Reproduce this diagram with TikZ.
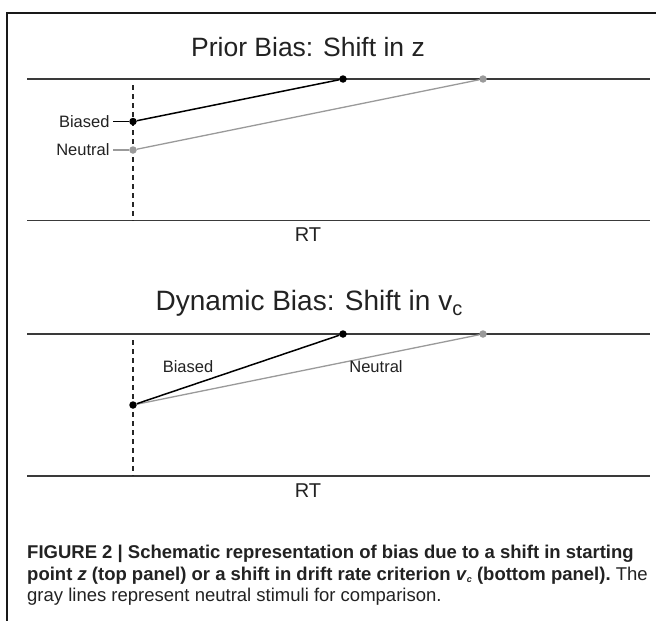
\documentclass[tikz,border=0pt]{standalone}
\usepackage{fontspec}
\setmainfont{Liberation Sans}
\definecolor{textgray}{HTML}{222222}
\definecolor{axisgray}{HTML}{3A3A3A}
\definecolor{neutralgray}{HTML}{9A9A9A}
\begin{document}
\begin{tikzpicture}[x=1pt,y=-1pt,
  axis/.style={draw=axisgray,line width=1.8pt},
  framerule/.style={draw=black!90,line width=1.2pt},
  vdash/.style={draw=black!85,line width=1.3pt,dash pattern=on 5pt off 4pt},
  dot/.style={circle,fill=black,inner sep=0pt,minimum size=7.5pt},
  gdot/.style={dot,fill=neutralgray},
  bline/.style={draw=black,line width=1.5pt},
  gline/.style={draw=neutralgray,line width=1.3pt},
  ttl/.style={font=\fontsize{26.5}{30}\selectfont,text=textgray,inner sep=0pt,anchor=base},
  lab/.style={font=\fontsize{16.5}{18}\selectfont,text=textgray},
  rt/.style={font=\fontsize{20}{22}\selectfont,text=textgray,inner sep=0pt},
  captext/.style={font=\fontsize{18.5}{22}\selectfont,text=textgray,inner sep=0pt,anchor=base west}
]
\useasboundingbox (0,0) rectangle (656,621);
\fill[white] (0,0) rectangle (656,621);
% frame
\coordinate (fbl) at (7,621);
\coordinate (ftl) at (7,13);
\coordinate (ftr) at (656,13);
\draw[framerule] (fbl) -- (ftl) -- (ftr);

% ---------- top panel ----------
\coordinate (t1l) at (27,79);
\coordinate (t1r) at (650,79);
\coordinate (b1l) at (27,220.5);
\coordinate (b1r) at (650,220.5);
\draw[axis] (t1l) -- (t1r);
\draw[axis] (b1l) -- (b1r);
\coordinate (d1t) at (133,85);
\coordinate (d1b) at (133,220.5);
\draw[vdash] (d1t) -- (d1b);
\node[ttl] (title1) at (308,56.7) {Prior Bias: Shift in z};
\node[rt] (rt1) at (308,235) {RT};
\node[dot] (zb) at (133,121.5) {};
\node[gdot] (zn) at (133,150) {};
\node[dot] (eb1) at (343,79) {};
\node[gdot] (en1) at (483,79) {};
\draw[gline] (zn) -- (en1);
\draw[bline] (zb) -- (eb1);
\node[lab,anchor=east] (lb1) at (113,121.5) {Biased};
\node[lab,anchor=east] (ln1) at (113,150) {Neutral};
\draw[bline] (lb1.east) -- (zb);
\draw[gline] (ln1.east) -- (zn);

% ---------- bottom panel ----------
\coordinate (t2l) at (27,334);
\coordinate (t2r) at (650,334);
\coordinate (b2l) at (27,476);
\coordinate (b2r) at (650,476);
\draw[axis] (t2l) -- (t2r);
\draw[axis] (b2l) -- (b2r);
\coordinate (d2t) at (133,340);
\coordinate (d2b) at (133,476);
\draw[vdash] (d2t) -- (d2b);
\node[ttl,font=\fontsize{28}{31}\selectfont] (title2) at (309,310) {Dynamic Bias: Shift in v\raisebox{-5.5pt}{\fontsize{20}{21}\selectfont c}};
\node[rt] (rt2) at (308,491) {RT};
\node[dot] (s2) at (133,405) {};
\node[dot] (eb2) at (343,334) {};
\node[gdot] (en2) at (483,334) {};
\draw[gline] (s2) -- (en2);
\draw[bline] (s2) -- (eb2);
\node[lab] (lb2) at (188,367) {Biased};
\node[lab] (ln2) at (376,367) {Neutral};

% ---------- caption ----------
\node[captext] (c1) at (27,558) {\bfseries FIGURE 2 | Schematic representation of bias due to a shift in starting};
\node[captext] (c2) at (27,580) {\bfseries point \textit{z} (top panel) or a shift in drift rate criterion \textit{v}\raisebox{-2pt}{\fontsize{9}{10}\selectfont\textit{c}} (bottom panel).\mdseries\ The};
\node[captext] (c3) at (27,601) {gray lines represent neutral stimuli for comparison.};
\end{tikzpicture}
\end{document}
